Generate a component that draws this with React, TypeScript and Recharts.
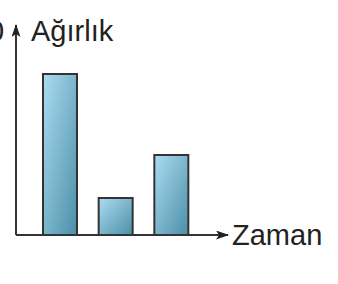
import { BarChart, Bar, XAxis, YAxis } from "recharts";

const categories = ["A", "B", "C"];
const weights = [161, 37, 80];
const yMax = 210;

const data = categories.map((c, i) => ({ name: c, weight: weights[i] }));

const labelStyle: React.CSSProperties = {
  position: "absolute",
  fontFamily: "'Liberation Sans', Arial, sans-serif",
  fontSize: 29,
  lineHeight: "29px",
  color: "#222",
  whiteSpace: "nowrap",
};

export default function App() {
  return (
    <div style={{ position: "absolute", left: 0, top: 0, width: 338, height: 284, background: "#fff", overflow: "hidden" }}>
      <BarChart width={338} height={284} data={data} margin={{ top: 25, right: 110, bottom: 48, left: 15 }}>
        <defs>
          <linearGradient id="barFill" x1="0" y1="0" x2="1" y2="1">
            <stop offset="0%" stopColor="#acdcf1" />
            <stop offset="100%" stopColor="#4b8fa8" />
          </linearGradient>
          <marker id="arrow" viewBox="0 0 13 9" refX="12" refY="4.5" markerWidth="13" markerHeight="9" markerUnits="userSpaceOnUse" orient="auto-start-reverse">
            <path d="M0,0 L13,4.5 L0,9 L3,4.5 z" fill="#222" />
          </marker>
        </defs>
        <XAxis
          dataKey="name"
          height={1}
          tick={false}
          tickLine={false}
          padding={{ left: 16, right: 29 }}
          axisLine={{ stroke: "#333", strokeWidth: 2, markerEnd: "url(#arrow)" }}
        />
        <YAxis
          domain={[0, yMax]}
          width={1}
          tick={false}
          tickLine={false}
          axisLine={{ stroke: "#333", strokeWidth: 2, markerStart: "url(#arrow)" }}
        />
        <Bar dataKey="weight" barSize={34} fill="url(#barFill)" stroke="#333" strokeWidth={2} isAnimationActive={false} />
      </BarChart>
      <span style={{ ...labelStyle, left: -12, top: 17 }}>0</span>
      <span style={{ ...labelStyle, left: 31, top: 17 }}>Ağırlık</span>
      <span style={{ ...labelStyle, left: 232, top: 221 }}>Zaman</span>
    </div>
  );
}
